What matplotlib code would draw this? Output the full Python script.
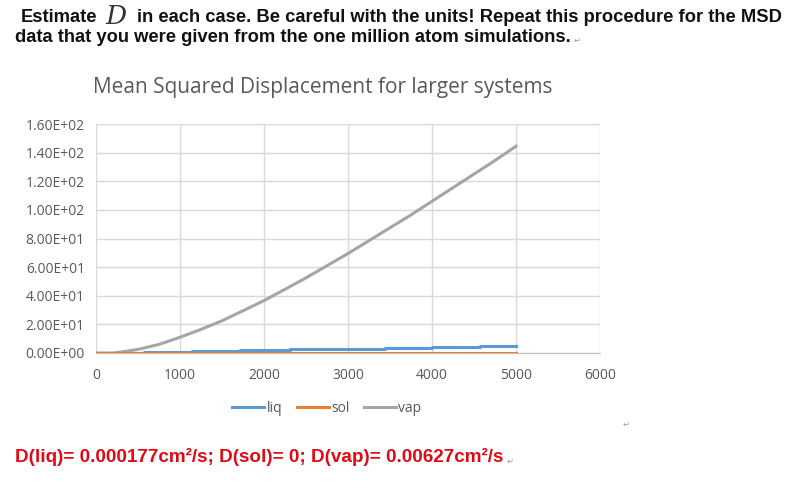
import matplotlib
matplotlib.use("Agg")
import matplotlib.pyplot as plt

# ---- data ----
title = "Mean Squared Displacement for larger systems"
x_vap = [0, 200, 250, 500, 750, 1000, 1250, 1500, 1750, 2000, 2250, 2500, 2750,
         3000, 3250, 3500, 3750, 4000, 4250, 4500, 4750, 5000]
y_vap = [0, 0, 0.3, 2.5, 6.0, 11.0, 16.5, 22.5, 29.5, 36.6, 44.5, 52.5, 61.0,
         69.5, 78.5, 87.5, 96.5, 106.0, 115.5, 125.0, 134.5, 144.5]
x_liq = [0, 570, 1140, 1715, 2310, 2880, 3440, 4000, 4570, 5000]
y_liq = [0, 0.6, 1.2, 1.8, 2.5, 3.1, 3.7, 4.3, 5.0, 5.0]
x_sol = [0, 5000]
y_sol = [0, 0]
series_names = ["liq", "sol", "vap"]
colors = ["#5B9BD5", "#ED7D31", "#A5A5A5"]
y_ticks = [0, 20, 40, 60, 80, 100, 120, 140, 160]
x_ticks = [0, 1000, 2000, 3000, 4000, 5000, 6000]

header1a = "Estimate"
header1b = "in each case. Be careful with the units! Repeat this procedure for the MSD"
header2 = "data that you were given from the one million atom simulations."
result = "D(liq)= 0.000177cm\u00b2/s; D(sol)= 0; D(vap)= 0.00627cm\u00b2/s"

bodyfont = "Liberation Sans"
cal = "Open Sans"

fig = plt.figure(figsize=(8.0, 4.83), dpi=100)
W, H = 800, 483

def fx(px):
    return px / W

def fy(py):
    return 1 - py / H

# header text
fig.text(fx(21), fy(18), header1a, family=bodyfont, weight="bold", fontsize=13.2,
         va="center", ha="left", color="#111111")
fig.text(fx(105), fy(16), "D", family="DejaVu Serif", style="italic", fontsize=19,
         va="center", ha="left", color="#333333")
fig.text(fx(137), fy(18), header1b, family=bodyfont, weight="bold", fontsize=13.2,
         va="center", ha="left", color="#111111")
fig.text(fx(15), fy(37), header2, family=bodyfont, weight="bold", fontsize=13.2,
         va="center", ha="left", color="#111111")
fig.text(fx(574), fy(40), "\u21b5", fontsize=6, color="#999999", va="center")
fig.text(fx(623), fy(424), "\u21b5", fontsize=6, color="#999999", va="center")

# chart
ax = fig.add_axes([fx(96), fy(353), fx(600) - fx(96), fy(124) - fy(353)])
ax.plot(x_liq, y_liq, color=colors[0], lw=2.2, drawstyle="steps-post",
        label=series_names[0], zorder=3)
ax.plot(x_sol, y_sol, color=colors[1], lw=2.2, label=series_names[1], zorder=4)
ax.plot(x_vap, y_vap, color=colors[2], lw=2.2, label=series_names[2], zorder=3)

ax.set_xlim(0, 6000)
ax.set_ylim(0, 160)
ax.set_xticks(x_ticks)
ax.set_yticks(y_ticks)
ax.set_xticklabels([str(v) for v in x_ticks])
ax.set_yticklabels(["%.2E" % v for v in y_ticks])
ax.grid(True, color="#D9D9D9", lw=1)
ax.set_axisbelow(True)
for s in ["top", "right", "left"]:
    ax.spines[s].set_visible(False)
ax.spines["bottom"].set_color("#BFBFBF")
ax.tick_params(length=0, labelcolor="#595959", labelsize=10, pad=8)
for lab in ax.get_xticklabels() + ax.get_yticklabels():
    lab.set_family(cal)
ax.tick_params(axis="x", pad=11)

fig.text(fx(93), fy(88), title, family=cal, fontsize=15, color="#595959",
         va="center", ha="left")

leg = fig.legend(*ax.get_legend_handles_labels(), loc="center",
                 bbox_to_anchor=(fx(327), fy(408)), ncol=3, frameon=False,
                 prop={"family": cal, "size": 10}, handlelength=2.3,
                 handletextpad=0.2, columnspacing=1.0)
for t in leg.get_texts():
    t.set_color("#595959")

fig.text(fx(15), fy(457), result, family=bodyfont, weight="bold", fontsize=13.6,
         color="#E00A14", va="center", ha="left")
fig.text(fx(507), fy(461), "\u21b5", fontsize=6, color="#999999", va="center")

fig.savefig("out.png", dpi=100)
